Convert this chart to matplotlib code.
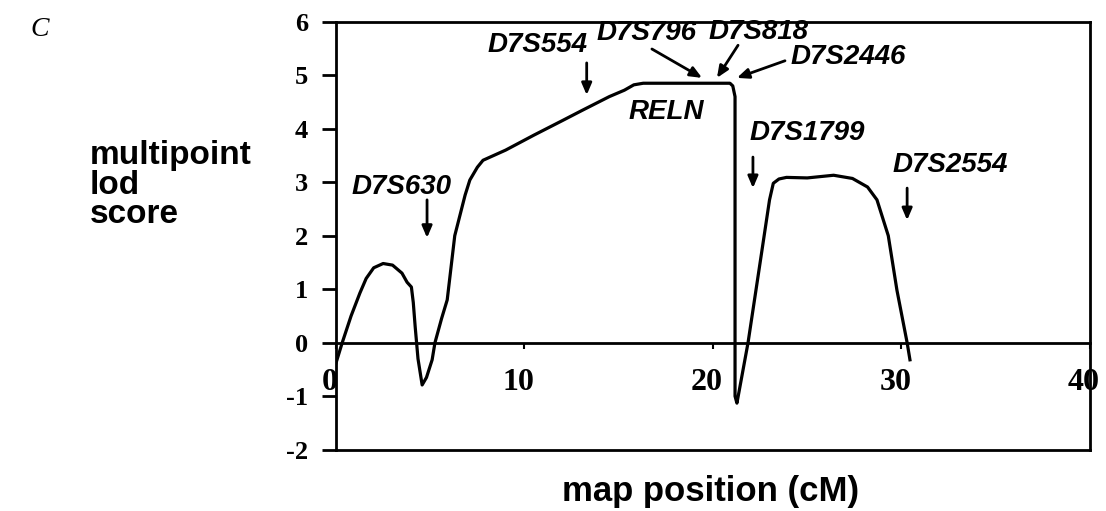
import numpy as np
import matplotlib
matplotlib.use("Agg")
import matplotlib.pyplot as plt
from matplotlib.transforms import ScaledTranslation

# multipoint lod score traced along the map (cM)
map_pos = [0.0, 0.33, 0.8, 1.27, 1.6, 2.0, 2.5, 3.0, 3.5, 3.77, 4.0, 4.1, 4.2, 4.35,
           4.57, 4.8, 5.1, 5.25, 5.6, 5.9, 6.3, 6.85, 7.1, 7.5, 7.8, 9.0, 10.5, 12.0,
           13.1, 14.5, 15.3, 15.8, 16.3, 18.0, 20.0, 20.9, 21.05, 21.17, 21.17,
           21.27, 21.86, 22.6, 23.0, 23.2, 23.5, 23.9, 25.0, 26.4, 27.4, 28.2,
           28.7, 29.3, 29.76, 30.3, 30.45]
lod = [-0.38, 0.0, 0.5, 0.93, 1.2, 1.4, 1.48, 1.45, 1.3, 1.13, 1.04, 0.75, 0.3, -0.3,
       -0.79, -0.65, -0.32, 0.0, 0.45, 0.8, 2.0, 2.76, 3.04, 3.28, 3.41, 3.6, 3.88, 4.15,
       4.35, 4.6, 4.72, 4.82, 4.85, 4.85, 4.85, 4.85, 4.8, 4.6, -1.0,
       -1.13, 0.0, 1.73, 2.67, 2.98, 3.06, 3.09, 3.08, 3.13, 3.07, 2.91,
       2.67, 2.0, 0.98, 0.0, -0.32]

# marker labels with text centre and arrow tail / head (data coords)
markers = ["D7S630", "D7S554", "D7S796", "D7S818", "D7S2446", "D7S1799", "D7S2554"]
text_xy = [(3.5, 2.91), (10.7, 5.56), (16.45, 5.79), (22.44, 5.81), (27.2, 5.34),
           (25.0, 3.92), (32.6, 3.32)]
arrow_from = [(4.83, 2.67), (13.3, 5.23), (16.76, 5.49), (21.33, 5.56), (23.82, 5.27),
              (22.12, 3.47), (30.3, 2.89)]
arrow_to = [(4.83, 1.96), (13.3, 4.63), (19.42, 4.95), (20.21, 4.95), (21.27, 4.95),
            (22.12, 2.89), (30.3, 2.29)]

xticks = [0, 10, 20, 30, 40]
yticks = [-2, -1, 0, 1, 2, 3, 4, 5, 6]

fig = plt.figure(figsize=(11.06, 5.11), dpi=100)
ax = fig.add_axes([0.3038, 0.12, 0.6817, 0.8375])

ax.plot(map_pos, lod, color="black", lw=2.3, solid_joinstyle="round")

ax.set_xlim(0, 40)
ax.set_ylim(-2, 6)

for s in ax.spines.values():
    s.set_linewidth(2.0)
ax.spines["bottom"].set_position(("data", 0))
ax.axhline(-2, color="black", lw=2.0, clip_on=False)

ax.set_yticks(yticks)
ax.set_yticklabels([str(v) for v in yticks], fontfamily="Liberation Serif",
                   fontweight="bold", fontsize=19)
ax.tick_params(axis="y", direction="out", length=10, width=2.0, pad=10)

ax.set_xticks(xticks)
ax.set_xticklabels([str(v) for v in xticks], fontfamily="Liberation Serif",
                   fontweight="bold", fontsize=23)
ax.tick_params(axis="x", direction="out", length=4, width=1.5, pad=14)
shift = ScaledTranslation(-6 / 100, 0, fig.dpi_scale_trans)
for lab in ax.get_xticklabels():
    lab.set_transform(lab.get_transform() + shift)

lab_font = dict(family="Liberation Sans", weight="bold", style="italic", size=20)
for name, (tx, ty), a0, a1 in zip(markers, text_xy, arrow_from, arrow_to):
    ax.text(tx, ty, name, ha="center", va="center", **lab_font)
    ax.annotate("", xy=a1, xytext=a0,
                arrowprops=dict(arrowstyle="-|>,head_length=0.7,head_width=0.3",
                                color="black", lw=2.0, shrinkA=0, shrinkB=0))

ax.text(17.5, 4.31, "RELN", ha="center", va="center", **lab_font)

fig.text(90 / 1106, 1 - 185 / 511, "multipoint\nlod\nscore", ha="left", va="center",
         family="Liberation Sans", weight="bold", fontsize=24, linespacing=0.95)
fig.text(711 / 1106, 1 - 492 / 511, "map position (cM)", ha="center", va="center",
         family="Liberation Sans", weight="bold", fontsize=25)
fig.text(30 / 1106, 1 - 30 / 511, "C", ha="left", va="center",
         family="Liberation Serif", style="italic", fontsize=20)

fig.savefig("out.png", dpi=100)
